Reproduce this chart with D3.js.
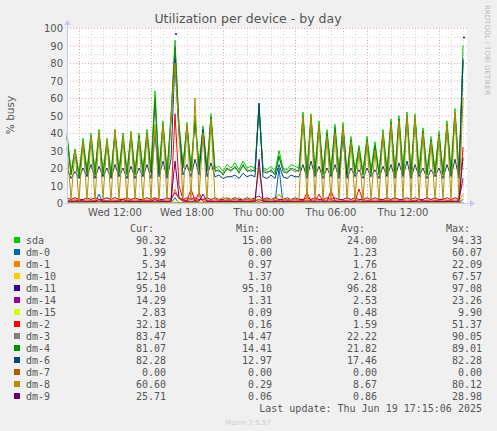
<!DOCTYPE html>
<html><head><meta charset="utf-8">
<script src="https://cdn.jsdelivr.net/npm/d3@7"></script>
<style>body{margin:0;background:#f0f0f0}</style>
</head><body><svg id="c" width="497" height="431"></svg>
<script>
// 100 samples, 20 minutes apart, Wed 08:00 -> Thu 17:00
const names = ["sda","dm-0","dm-1","dm-10","dm-11","dm-14","dm-15","dm-2","dm-3","dm-4","dm-6","dm-7","dm-8","dm-9"];
const colors = ["#00CC00","#0066B3","#FF8000","#FFCC00","#330099","#990099","#CCFF00","#FF0000","#808080","#008F00","#00487D","#B35A00","#B38F00","#6B006B"];
const curV = ["90.32","1.99","5.34","12.54","95.10","14.29","2.83","32.18","83.47","81.07","82.28","0.00","60.60","25.71"];
const minV = ["15.00","0.00","0.97","1.37","95.10","1.31","0.09","0.16","14.47","14.41","12.97","0.00","0.29","0.06"];
const avgV = ["24.00","1.23","1.76","2.61","96.28","2.53","0.48","1.59","22.22","21.82","17.46","0.00","8.67","0.86"];
const maxV = ["94.33","60.07","22.09","67.57","97.08","23.26","9.90","51.37","90.05","89.01","82.28","0.00","80.12","28.98"];
const yTicks = [0,10,20,30,40,50,60,70,80,90,100];
const xLabels = ["Wed 12:00","Wed 18:00","Thu 00:00","Thu 06:00","Thu 12:00"];

const sda = [40,18,31,17,37,19,40,18,42,18,37,17,42,19,40,18,41,18,40,19,42,20,64,19,47,18,50,93,45,22,
 46,20,50,22,44,20,51, 20,21,18,22,20,23,19,24,20,21,20, 57, 20,19,21,18,30,20,19,22,21,20,
 52,18,51,19,47,18,42,19,45,18,46,17,38,19,33,18,38,19,35,18,42,19,48,18,50,19,52,18,51,19,43,18,38,19,41,18,47,19,54,18, 90];
const dm4 = [38,16,29,15,35,17,38,16,40,16,35,15,40,17,38,16,39,16,38,17,40,18,60,17,45,16,48,89,43,20,
 44,18,47,20,42,18,49, 18,19,16,20,18,21,17,22,18,19,18, 55, 18,17,19,16,27,18,17,20,19,18,
 50,16,49,17,45,16,40,17,43,16,44,15,36,17,31,16,36,17,33,16,40,17,46,16,48,17,50,16,49,17,41,16,36,17,39,16,45,17,52,16, 81];
const dm3 = [37,17,30,16,34,16,37,17,39,17,34,16,39,16,37,17,38,17,37,16,39,17,58,18,44,17,47,90,42,21,
 43,19,46,19,41,19,48, 19,18,17,19,19,20,18,21,19,18,19, 54, 19,18,18,17,26,19,18,19,18,19,
 49,17,48,16,44,17,39,16,42,17,43,16,35,16,30,17,35,16,32,17,39,16,45,17,47,16,49,17,48,16,40,17,35,16,38,17,44,16,51,17, 83];
const dm6 = [20,14,18,14,20,15,22,14,21,15,20,14,22,15,20,14,21,14,20,15,22,14,40,15,24,14,25,82,40,16,
 22,15,25,16,42,15,23, 15,16,14,15,15,16,14,17,15,16,15, 57, 15,14,16,14,22,15,14,16,15,15,
 22,14,24,15,21,14,20,15,22,14,38,14,20,15,19,14,20,15,19,14,21,15,22,14,23,15,24,14,22,15,20,14,19,15,20,14,22,15,25,14, 82];
const dm8 = [32,2,30,1,35,2,38,1,40,2,36,1,42,2,38,1,40,2,37,1,40,2,45,1,45,2,48,80,40,3,
 45,2,60,3,40,2,48, 2,2,3,2,2,2,3,2,2,2,2, 20, 2,2,2,2,5,2,2,2,2,2,
 50,2,50,2,45,2,38,2,40,2,44,2,35,2,30,2,35,2,30,2,40,2,45,2,47,2,50,2,50,2,40,2,35,2,38,2,45,2,52,2, 60];
const dm2 = [1,1,1,2,1,1,1,1,2,1,1,1,1,1,2,1,1,1,1,1,
 1,1,2,1,1,1,1,51,10,2,1,8,1,6,1,1,1,1,1,1,
 1,1,1,1,1,1,1,1,2,1,1,1,1,1,1,1,1,1,1,1,
 6,1,1,5,1,1,7,1,1,1,1,1,1,8,1,1,1,1,1,1,
 1,1,1,1,1,1,1,1,2,1,1,1,1,1,1,1,1,1,1,32];
const dm9 = [1,1,1,1,1,1,1,1,1,1,1,1,1,1,1,1,1,1,1,1,
 1,1,1,1,1,1,1,24,3,1,1,1,1,1,5,1,1,1,1,1,
 1,1,1,1,1,1,1,1,25,1,1,1,1,1,1,1,1,1,1,1,
 1,1,1,1,1,1,1,1,1,1,1,1,1,1,1,1,1,1,1,1,
 1,1,1,1,1,1,1,1,1,1,1,1,1,1,1,1,1,1,1,26];
const dm14 = [3,2,3,2,2,3,2,3,2,2,3,2,3,2,2,3,2,3,2,2,
 3,2,3,2,2,3,2,6,3,2,3,2,3,2,2,3,2,3,2,2,
 3,2,3,2,2,3,2,3,4,2,3,2,3,2,2,3,2,3,2,2,
 3,2,3,2,2,3,2,3,2,2,3,2,3,2,2,3,2,3,2,2,
 3,2,3,2,2,3,2,3,2,2,3,2,3,2,2,3,2,3,2,14];
const dm0 = [0,0,1,0,0,0,0,0,5,0,0,0,0,0,0,1,0,0,0,0,
 0,0,0,0,1,0,0,3,0,0,0,0,0,0,0,0,0,0,0,0,
 0,0,0,0,0,0,0,0,1,0,0,0,0,20,0,0,0,0,0,0,
 0,0,0,0,0,0,0,1,0,0,0,0,0,0,0,0,0,0,0,0,
 0,0,0,0,0,0,0,0,0,0,0,0,0,0,0,0,0,0,0,2];
const dm1 = [1.5,1.5,2,1.5,1.5,2,1.5,1.5,2,1.5,1.5,2,1.5,1.5,2,1.5,1.5,2,1.5,1.5,
 1.5,1.5,2,1.5,1.5,2,1.5,8,2,1.5,1.5,2,1.5,1.5,2,1.5,1.5,2,1.5,1.5,
 1.5,1.5,2,1.5,1.5,2,1.5,1.5,2,1.5,1.5,2,1.5,1.5,2,1.5,1.5,2,1.5,1.5,
 1.5,1.5,2,1.5,1.5,2,1.5,1.5,2,1.5,1.5,2,1.5,1.5,2,1.5,1.5,2,1.5,1.5,
 1.5,1.5,2,1.5,1.5,2,1.5,1.5,2,1.5,1.5,2,1.5,1.5,2,1.5,1.5,2,1.5,5];
const dm10 = [2,2,3,2,2,2,3,2,2,2,3,2,2,2,3,2,2,2,3,2,
 2,2,3,2,2,2,3,6,2,2,2,3,2,2,2,3,2,2,2,3,
 2,2,3,2,2,2,3,2,2,2,3,2,2,2,3,2,2,2,3,2,
 2,2,3,2,2,2,3,2,2,2,3,2,2,2,3,2,2,2,3,2,
 2,2,3,2,2,2,3,2,2,2,3,2,2,2,3,2,2,2,3,12];
const dm15 = [0.5,0.5,0.5,0.5,0.5,0.5,0.5,0.5,0.5,0.5,0.5,0.5,0.5,0.5,0.5,0.5,0.5,0.5,0.5,0.5,
 0.5,0.5,0.5,0.5,0.5,0.5,0.5,1,0.5,0.5,0.5,0.5,0.5,0.5,0.5,0.5,0.5,0.5,0.5,0.5,
 0.5,0.5,0.5,0.5,0.5,0.5,0.5,0.5,0.5,0.5,0.5,0.5,0.5,0.5,0.5,0.5,0.5,0.5,0.5,0.5,
 0.5,0.5,0.5,0.5,0.5,0.5,0.5,0.5,0.5,0.5,0.5,0.5,0.5,0.5,0.5,0.5,0.5,0.5,0.5,0.5,
 0.5,0.5,0.5,0.5,0.5,0.5,0.5,0.5,0.5,0.5,0.5,0.5,0.5,0.5,0.5,0.5,0.5,0.5,0.5,3];
const dm7 = new Array(100).fill(0);
// dm-11 only has a couple of samples
const dm11 = new Array(100).fill(null);
dm11[27] = 97; dm11[99] = 95;

const series = [sda,dm0,dm1,dm10,dm11,dm14,dm15,dm2,dm3,dm4,dm6,dm7,dm8,dm9];

const svg = d3.select("#c");
const pL = 67, pR = 467, pT = 28, pB = 203;
const t0 = new Date(2025,5,18,8,0);
const t1 = new Date(2025,5,19,17,20);
const x = d3.scaleTime().domain([t0,t1]).range([pL,pR]);
const y = d3.scaleLinear().domain([0,100]).range([pB,pT]);
const tAt = i => new Date(t0.getTime() + i*20*60000);

svg.append("rect").attr("x",pL).attr("y",pT).attr("width",pR-pL).attr("height",pB-pT).attr("fill","#fff");

// grid
const hours = d3.timeHour.range(t0, t1);
hours.forEach(h => {
  const major = h.getHours() % 6 === 3;
  svg.append("line").attr("x1",x(h)+0.5).attr("x2",x(h)+0.5).attr("y1",pT).attr("y2",pB)
    .attr("stroke", major ? "#e8a0a0" : "#d0d0d0").attr("stroke-dasharray","1,2");
});
d3.range(5,100,10).forEach(v => {
  svg.append("line").attr("x1",pL).attr("x2",pR).attr("y1",y(v)+0.5).attr("y2",y(v)+0.5)
    .attr("stroke","#d0d0d0").attr("stroke-dasharray","1,2");
});
yTicks.forEach(v => {
  svg.append("line").attr("x1",pL).attr("x2",pR).attr("y1",y(v)+0.5).attr("y2",y(v)+0.5)
    .attr("stroke","#e8a0a0").attr("stroke-dasharray","1,2");
  svg.append("text").attr("x",pL-4).attr("y",y(v)+4).attr("text-anchor","end")
    .attr("font-family","DejaVu Sans").attr("font-size",10).attr("fill","#555").text(v);
});
xLabels.forEach((s,i) => {
  const d = new Date(2025,5,18,12 + i*6);
  svg.append("text").attr("x",x(d)).attr("y",pB+13).attr("text-anchor","middle")
    .attr("font-family","DejaVu Sans").attr("font-size",10).attr("fill","#555").text(s);
});

// lines
const line = d3.line().defined(v => v !== null).x((v,i) => x(tAt(i))).y(v => y(v));
series.forEach((s,k) => {
  if (names[k] === "dm-11") {
    s.forEach((v,i) => { if (v !== null) svg.append("rect").attr("x",x(tAt(i))).attr("y",y(v)).attr("width",2).attr("height",1.5).attr("fill",colors[k]); });
    return;
  }
  svg.append("path").attr("d", line(s)).attr("fill","none").attr("stroke",colors[k]).attr("stroke-width",1);
});

// axes
svg.append("line").attr("x1",pL-2).attr("x2",pR+3).attr("y1",pB+0.5).attr("y2",pB+0.5).attr("stroke","#c8c8f0");
svg.append("path").attr("d",`M${pR+3},${pB-3}L${pR+8},${pB+0.5}L${pR+3},${pB+4}Z`).attr("fill","#c8c8f0");
svg.append("line").attr("x1",pL+0.5).attr("x2",pL+0.5).attr("y1",pB+2).attr("y2",pT-3).attr("stroke","#c8c8f0");
svg.append("path").attr("d",`M${pL-3},${pT-3}L${pL+0.5},${pT-8}L${pL+4},${pT-3}Z`).attr("fill","#c8c8f0");

// titles
svg.append("text").attr("x",248).attr("y",23).attr("text-anchor","middle").attr("font-family","DejaVu Sans")
  .attr("font-size",12.5).attr("fill","#555").text("Utilization per device - by day");
svg.append("text").attr("transform","translate(14,115) rotate(-90)").attr("text-anchor","middle")
  .attr("font-family","DejaVu Sans").attr("font-size",10.5).attr("fill","#555").text("% busy");
svg.append("text").attr("transform","translate(485,5) rotate(90)").attr("font-family","DejaVu Sans")
  .attr("font-size",7).attr("fill","#bbb").text("RRDTOOL / TOBI OETIKER");

// legend
const mono = "DejaVu Sans Mono";
const fs = 10;
[["Cur:",154],["Min:",260],["Avg:",365],["Max:",470]].forEach(([t,cx]) =>
  svg.append("text").attr("x",cx).attr("y",232).attr("text-anchor","end").attr("font-family",mono)
    .attr("font-size",fs).attr("fill","#555").text(t));
names.forEach((n,i) => {
  const yy = 244 + i*12;
  svg.append("rect").attr("x",14).attr("y",yy-7).attr("width",6).attr("height",6).attr("fill",colors[i]);
  svg.append("text").attr("x",26).attr("y",yy).attr("font-family",mono).attr("font-size",fs).attr("fill","#555").text(n);
  [[curV,166],[minV,272],[avgV,377],[maxV,482]].forEach(([arr,cx]) =>
    svg.append("text").attr("x",cx).attr("y",yy).attr("text-anchor","end").attr("font-family",mono)
      .attr("font-size",fs).attr("fill","#555").text(arr[i]));
});
svg.append("text").attr("x",482).attr("y",412).attr("text-anchor","end").attr("font-family",mono)
  .attr("font-size",fs).attr("fill","#555").text("Last update: Thu Jun 19 17:15:06 2025");
svg.append("text").attr("x",248).attr("y",425).attr("text-anchor","middle").attr("font-family","DejaVu Sans")
  .attr("font-size",7).attr("fill","#ccc").text("Munin 2.0.57");
</script></body></html>
